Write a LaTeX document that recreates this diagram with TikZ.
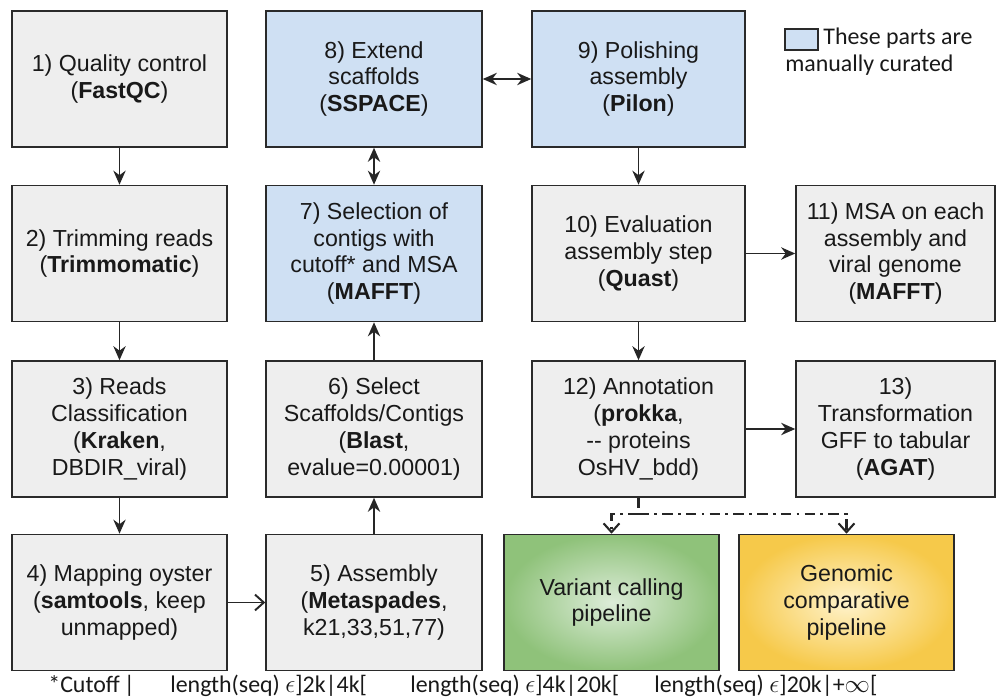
\documentclass[tikz,border=0pt]{standalone}
\usepackage{fontspec}
\setmainfont{Liberation Sans}
\newfontfamily\calib{Carlito}
\usetikzlibrary{arrows.meta}
\definecolor{boxgray}{HTML}{EEEEEE}
\definecolor{boxblue}{HTML}{CFE0F3}
\definecolor{edgecol}{HTML}{2A2A2A}
\definecolor{greenin}{HTML}{DCECD8}
\definecolor{greenout}{HTML}{8FC27A}
\definecolor{yellowin}{HTML}{FFF3CC}
\definecolor{yellowout}{HTML}{F6C94A}
\begin{document}
\begin{tikzpicture}[x=0.02cm,y=-0.02cm,
  box/.style={draw=edgecol, line width=0.9pt, fill=boxgray, align=center, inner sep=2pt,
    minimum height=2.72cm, text=black!90, font=\fontsize{13.2}{15.3}\selectfont},
  bluebox/.style={box, fill=boxblue},
  wA/.style={minimum width=4.30cm},
  wB/.style={minimum width=4.32cm},
  wC/.style={minimum width=4.26cm},
  wD/.style={minimum width=3.98cm},
  arr/.style={-{Stealth[length=8pt,width=7pt]}, line width=1.1pt, draw=black!85},
  darr/.style={{Stealth[length=8pt,width=7pt]}-{Stealth[length=8pt,width=7pt]}, line width=1.1pt, draw=black!85},
  openarr/.style={-{Straight Barb[length=5pt,width=9pt]}, line width=1.1pt, draw=black!85},
  dd/.style={line width=1.2pt, draw=black!85, dash pattern=on 6pt off 3pt on 1.5pt off 3pt},
  foot/.style={anchor=base west, inner sep=0pt, font=\calib\fontsize{13.6}{15}\selectfont, text=black!90}
]
\useasboundingbox (0,0) rectangle (1000,699);

% column 1
\node[box,wA] (b1) at (119.5,79) {1) Quality control\\(\textbf{FastQC})};
\node[box,wA] (b2) at (119.5,253.5) {2) Trimming reads\\(\textbf{Trimmomatic})};
\node[box,wA] (b3) at (119.5,429) {3) Reads\\Classification\\(\textbf{Kraken},\\DBDIR\_viral)};
\node[box,wA] (b4) at (119.5,602.5) {4) Mapping oyster\\(\textbf{samtools}, keep\\unmapped)};
% column 2
\node[bluebox,wB] (b8) at (374,79) {8) Extend\\scaffolds\\(\textbf{SSPACE})};
\node[bluebox,wB] (b7) at (374,253.5) {7) Selection of\\contigs with\\cutoff* and MSA\\(\textbf{MAFFT})};
\node[box,wB] (b6) at (374,429) {6) Select\\Scaffolds/Contigs\\(\textbf{Blast},\\evalue=0.00001)};
\node[box,wB] (b5) at (374,602.5) {5) Assembly\\(\textbf{Metaspades},\\k21,33,51,77)};
% column 3
\node[bluebox,wC] (b9) at (638.5,79) {9) Polishing\\assembly\\(\textbf{Pilon})};
\node[box,wC] (b10) at (638.5,253.5) {10) Evaluation\\assembly step\\(\textbf{Quast})};
\node[box,wC] (b12) at (638.5,429) {12) Annotation\\(\textbf{prokka},\\-{}- proteins\\OsHV\_bdd)};
% column 4
\node[box,wD] (b11) at (895.5,253.5) {11) MSA on each\\assembly and\\viral genome\\(\textbf{MAFFT})};
\node[box,wD] (b13) at (895.5,429) {13)\\Transformation\\GFF to tabular\\(\textbf{AGAT})};
% pipelines
\node[box,wA,shading=radial,inner color=greenin,outer color=greenout] (green) at (611.5,602.5) {Variant calling\\pipeline};
\node[box,wA,shading=radial,inner color=yellowin,outer color=yellowout] (yellow) at (846.5,602.5) {Genomic\\comparative\\pipeline};

% legend
\node[draw=edgecol, line width=0.9pt, fill=boxblue, minimum width=0.66cm, minimum height=0.42cm, inner sep=0pt] (leg) at (801.5,39.5) {};
\node[foot] (legt1) at (823,45) {These parts are};
\node[foot] (legt2) at (785,72) {manually curated};

% connectors
\draw[arr] (b1) -- (b2);
\draw[arr] (b2) -- (b3);
\draw[arr] (b3) -- (b4);
\draw[openarr] (b4) -- (b5);
\draw[arr] (b5) -- (b6);
\draw[arr] (b6) -- (b7);
\draw[darr] (b7) -- (b8);
\draw[darr] (b8) -- (b9);
\draw[arr] (b9) -- (b10);
\draw[arr] (b10) -- (b11);
\draw[arr] (b10) -- (b12);
\draw[arr] (b12) -- (b13);
\coordinate (split) at (638.5,514);
\draw[dd] (b12.south) -- (split);
\draw[dd,-{Straight Barb[length=5pt,width=9pt]}] (split) -| (green.north);
\draw[dd,-{Straight Barb[length=5pt,width=9pt]}] (split) -| (yellow.north);

% footer
\node[foot] (f1) at (48,692) {*Cutoff\,|};
\node[foot] (f2) at (170,692) {length(seq) $\epsilon$]2k|4k[};
\node[foot] (f3) at (410,692) {length(seq) $\epsilon$]4k|20k[};
\node[foot] (f4) at (654,692) {length(seq) $\epsilon$]20k|+$\infty$[};
\end{tikzpicture}
\end{document}
